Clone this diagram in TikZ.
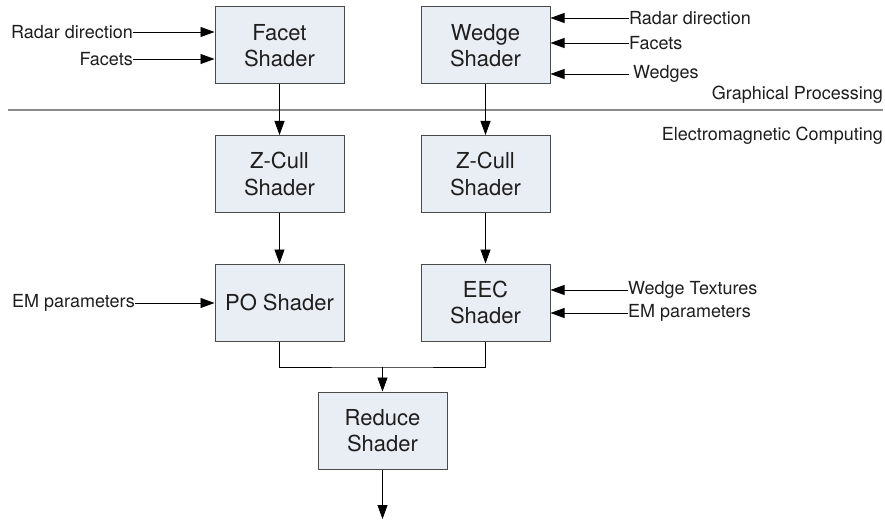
\documentclass[tikz,border=0pt]{standalone}
\usepackage{fontspec}
\setmainfont{TeX Gyre Heros}
\usetikzlibrary{arrows.meta}
\definecolor{boxfill}{HTML}{E9EDF4}
\definecolor{boxdraw}{HTML}{4A4A4A}
\definecolor{txt}{HTML}{1E1E1E}
\definecolor{sep}{HTML}{8A8A8A}
\begin{document}
\begin{tikzpicture}[x=1pt,y=-1pt,
  shbox/.style={draw=boxdraw, fill=boxfill, line width=1pt, minimum width=129pt, minimum height=77pt, inner sep=0pt, align=center, text=txt, font=\fontsize{22}{26.5}\selectfont},
  lbl/.style={inner sep=0pt, text=txt, font=\fontsize{18}{20}\selectfont},
  conn/.style={line width=0.8pt, draw=black},
  arr/.style={conn, -{Triangle[length=14pt,width=10pt]}}]
\useasboundingbox (0,0) rectangle (885,521);
% boxes
\node[shbox] (fs) at (279.5,45.5) {Facet\\Shader};
\node[shbox] (ws) at (485.5,45.5) {Wedge\\Shader};
\node[shbox] (zl) at (279.5,174) {Z-Cull\\Shader};
\node[shbox] (zr) at (485.5,174) {Z-Cull\\Shader};
\node[shbox] (po) at (279.5,302.5) {PO Shader};
\node[shbox] (ee) at (485.5,302.5) {EEC\\Shader};
\node[shbox] (rd) at (382.5,430.5) {Reduce\\Shader};
% separator
\coordinate (s1) at (8,110);
\coordinate (s2) at (883,110);
\draw[sep, line width=1.2pt] (s1) -- (s2);
\node[lbl, anchor=east] (gp) at (883,95) {Graphical Processing};
\node[lbl, anchor=east] (ec) at (883,136) {Electromagnetic Computing};
% left inputs
\node[lbl, anchor=east] (l1) at (133,32) {Radar direction};
\node[lbl, anchor=east] (l2) at (133,59) {Facets};
\node[lbl, anchor=east] (l3) at (135,303) {EM parameters};
\draw[arr] (l1.east) -- (l1.east -| fs.west);
\draw[arr] (l2.east) -- (l2.east -| fs.west);
\draw[arr] (l3.east) -- (l3.east -| po.west);
% right inputs
\node[lbl, anchor=west] (r1) at (629,18) {Radar direction};
\node[lbl, anchor=west] (r2) at (629,43) {Facets};
\node[lbl, anchor=west] (r3) at (633,74) {Wedges};
\coordinate (r3e) at (629,74);
\node[lbl, anchor=west] (r4) at (628,290) {Wedge Textures};
\node[lbl, anchor=west] (r5) at (628,313) {EM parameters};
\draw[arr] (r1.west) -- (r1.west -| ws.east);
\draw[arr] (r2.west) -- (r2.west -| ws.east);
\draw[arr] (r3e) -- (r3e -| ws.east);
\draw[arr] (r4.west) -- (r4.west -| ee.east);
\draw[arr] (r5.west) -- (r5.west -| ee.east);
% vertical flow
\draw[arr] (fs) -- (zl);
\draw[arr] (ws) -- (zr);
\draw[arr] (zl) -- (po);
\draw[arr] (zr) -- (ee);
\coordinate (m) at (382.5,367);
\coordinate (out) at (382.5,519);
\draw[conn] (po.south) |- (m) -| (ee.south);
\draw[arr] (m) -- (rd.north);
\draw[arr] (rd.south) -- (out);
\end{tikzpicture}
\end{document}
